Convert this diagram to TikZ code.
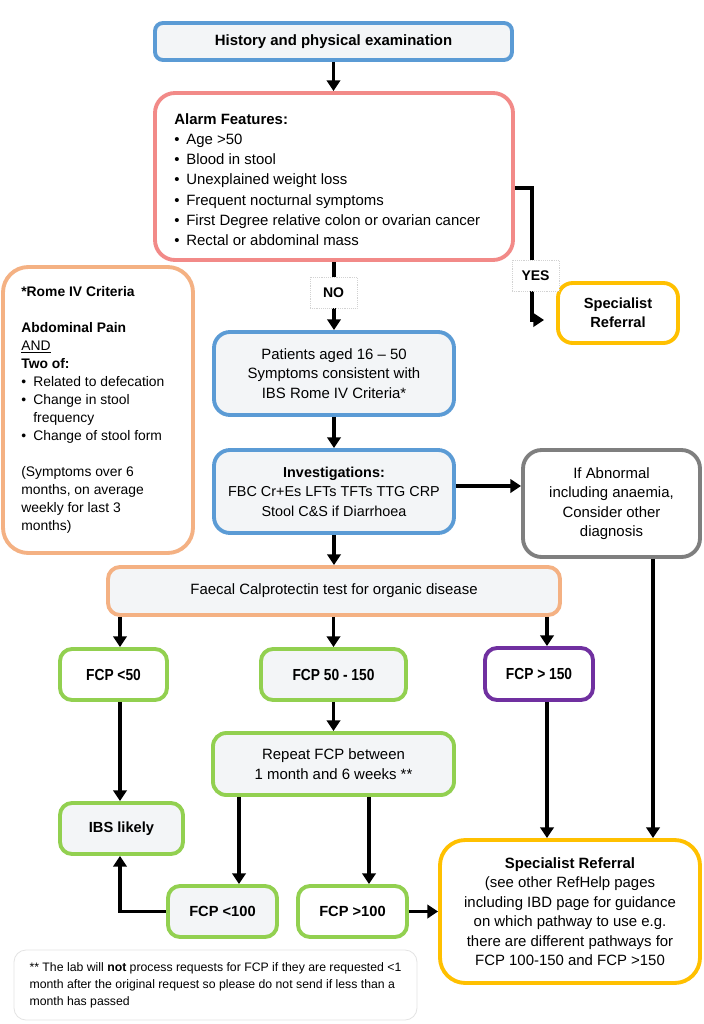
\documentclass[tikz,border=0pt]{standalone}
\usepackage{fontspec}
\setmainfont{Liberation Sans}
\newfontfamily\narrowf{Liberation Sans}[FakeStretch=0.86]
\usetikzlibrary{arrows.meta}
\definecolor{cblue}{HTML}{5B9BD5}
\definecolor{cpink}{HTML}{F28A88}
\definecolor{cpeach}{HTML}{F4B183}
\definecolor{cgrey}{HTML}{7F7F7F}
\definecolor{cyellow}{HTML}{FFC000}
\definecolor{cgreen}{HTML}{92D050}
\definecolor{cpurple}{HTML}{7030A0}
\definecolor{boxfill}{HTML}{F3F5F7}
\newcommand\bul{\makebox[9pt][l]{\textbullet}}
\tikzset{
  box/.style={draw, line width=2.9pt, fill=boxfill, align=center, inner sep=0pt, rounded corners=9pt},
  fsn/.style={font=\fontsize{11.2}{14.6}\selectfont},
  fcpbold/.style={font=\narrowf\bfseries\fontsize{12}{14}\selectfont},
  arr/.style={line width=2.6pt, -{Triangle[width=10pt,length=8pt]}},
  lbl/.style={draw=gray!35, line width=0.4pt, densely dotted, fill=white, inner sep=0pt, minimum width=47*.75pt, minimum height=31*.75pt, font=\bfseries\fontsize{10.5}{12}\selectfont},
}
\begin{document}
\begin{tikzpicture}[x=0.75pt,y=-0.75pt]
\fill[white] (0,0) rectangle (703,1024);
\useasboundingbox (0,0) rectangle (703,1024);

% boxes
\node[box, draw=cblue, rounded corners=6pt, minimum width=357*.75pt, minimum height=37*.75pt, font=\bfseries\fontsize{11.2}{13}\selectfont] (hist) at (333.5,41.5) {History and physical examination};

\node[box, draw=cpink, fill=white, rounded corners=15pt, minimum width=358*.75pt, minimum height=167*.75pt] (alarm) at (334,176.5) {};
\node[anchor=west, align=left, inner sep=0pt, font=\fontsize{11.2}{15.2}\selectfont] (alarmtxt) at ([xshift=21*.75pt,yshift=-3*.75pt]alarm.west)
{\textbf{Alarm Features:}\\
\bul Age >50\\
\bul Blood in stool\\
\bul Unexplained weight loss\\
\bul Frequent nocturnal symptoms\\
\bul First Degree relative colon or ovarian cancer\\
\bul Rectal or abdominal mass};

\node[box, draw=cpeach, fill=white, rounded corners=19pt, minimum width=190*.75pt, minimum height=286*.75pt] (rome) at (98,410) {};
\node[anchor=west, align=left, inner sep=0pt, font=\fontsize{10.4}{13.5}\selectfont] (rometxt) at ([xshift=20*.75pt]rome.west)
{\textbf{*Rome IV Criteria}\\[13.5pt]
\textbf{Abdominal Pain}\\
\underline{AND}\\
\textbf{Two of:}\\
\bul Related to defecation\\
\bul Change in stool\\
\hspace*{9pt}frequency\\
\bul Change of stool form\\[13.5pt]
(Symptoms over 6\\
months, on average\\
weekly for last 3\\
months)};

\node[box, draw=cblue, rounded corners=12pt, minimum width=240*.75pt, minimum height=83*.75pt, fsn] (pat) at (334,373.5)
{Patients aged 16 – 50\\Symptoms consistent with\\IBS Rome IV Criteria*};

\node[box, draw=cblue, rounded corners=12pt, minimum width=240*.75pt, minimum height=83*.75pt, font=\fontsize{10.8}{14.6}\selectfont] (inv) at (334,491.5)
{\textbf{Investigations:}\\FBC Cr+Es LFTs TFTs TTG CRP\\Stool C\&S if Diarrhoea};

\node[box, draw=cgrey, fill=white, rounded corners=14pt, minimum width=177*.75pt, minimum height=107*.75pt, fsn] (abn) at (611.5,503.5)
{If Abnormal\\including anaemia,\\Consider other\\diagnosis};

\node[box, draw=cyellow, fill=white, rounded corners=11pt, minimum width=120*.75pt, minimum height=60*.75pt, font=\bfseries\fontsize{11}{14.3}\selectfont] (spec1) at (618,313)
{Specialist\\Referral};

\node[box, draw=cpeach, rounded corners=9pt, minimum width=452*.75pt, minimum height=48*.75pt, fsn] (fae) at (334,591)
{Faecal Calprotectin test for organic disease};

\node[box, draw=cgreen, fill=white, minimum width=107*.75pt, minimum height=51*.75pt, fcpbold] (f50) at (113.5,674.5) {FCP <50};
\node[box, draw=cgreen, minimum width=145*.75pt, minimum height=51*.75pt, fcpbold] (f50150) at (333.5,674.5) {FCP 50 - 150};
\node[box, draw=cpurple, fill=white, minimum width=108*.75pt, minimum height=52*.75pt, fcpbold] (f150) at (539,674) {FCP > 150};

\node[box, draw=cgreen, rounded corners=10pt, minimum width=241*.75pt, minimum height=62*.75pt, fsn] (rep) at (333.5,764)
{Repeat FCP between\\1 month and 6 weeks **};

\node[box, draw=cgreen, minimum width=123*.75pt, minimum height=51*.75pt, font=\bfseries\fontsize{11}{13}\selectfont] (ibs) at (121.5,828.5) {IBS likely};
\node[box, draw=cgreen, minimum width=109*.75pt, minimum height=51*.75pt, font=\bfseries\fontsize{11}{13}\selectfont] (f100a) at (222.5,911.5) {FCP <100};
\node[box, draw=cgreen, fill=white, minimum width=109*.75pt, minimum height=51*.75pt, font=\bfseries\fontsize{11}{13}\selectfont] (f100b) at (352.5,911.5) {FCP >100};

\node[box, draw=cyellow, fill=white, rounded corners=19pt, minimum width=260*.75pt, minimum height=143*.75pt, fsn] (spec2) at (570,911.5)
{\textbf{Specialist Referral}\\(see other RefHelp pages\\including IBD page for guidance\\on which pathway to use e.g.\\there are different pathways for\\FCP 100-150 and FCP >150};

\node[draw=gray!22, line width=0.6pt, rounded corners=9pt, fill=white, minimum width=403*.75pt, minimum height=70*.75pt, inner sep=0pt, align=left, font=\fontsize{9.2}{12.7}\selectfont] (note) at (215.5,985)
{** The lab will \textbf{not} process requests for FCP if they are requested <1\\
month after the original request so please do not send if less than a\\
month has passed};

% helper coordinates
\coordinate (yA) at (532,188);
\coordinate (yB) at (532,320);
\coordinate (yInv) at (0,486);
\coordinate (x120) at (120,0);
\coordinate (x547) at (547,0);
\coordinate (x653) at (653,0);
\coordinate (x239) at (239,0);
\coordinate (x369) at (369,0);

% connectors
\draw[arr] (hist.south) -- (hist.south |- alarm.north);
\draw[arr] (alarm.south) -- (alarm.south |- pat.north);
\node[lbl] (no) at (333.5,292.5) {NO};
\draw[arr, shorten >=9pt] (alarm.east |- yA) -- (yA) -- (yB) -- (spec1.west |- yB);
\node[lbl] (yes) at (535.5,275.5) {YES};
\draw[arr] (pat.south) -- (pat.south |- inv.north);
\draw[arr] (inv.east |- yInv) -- (abn.west |- yInv);
\draw[arr] (inv.south) -- (inv.south |- fae.north);
\draw[arr] (fae.south -| x120) -- (f50.north -| x120);
\draw[arr] (fae.south -| f50150.north) -- (f50150.north);
\draw[arr] (fae.south -| x547) -- (f150.north -| x547);
\draw[arr] (abn.south -| x653) -- (spec2.north -| x653);
\draw[arr] (f150.south -| x547) -- (spec2.north -| x547);
\draw[arr] (f50.south -| x120) -- (ibs.north -| x120);
\draw[arr] (f50150.south) -- (f50150.south |- rep.north);
\draw[arr] (rep.south -| x239) -- (f100a.north -| x239);
\draw[arr] (rep.south -| x369) -- (f100b.north -| x369);
\draw[arr] (f100a.west) -- (f100a.west -| x120) -- (ibs.south -| x120);
\draw[arr] (f100b.east) -- (spec2.west |- f100b.east);
\end{tikzpicture}
\end{document}
